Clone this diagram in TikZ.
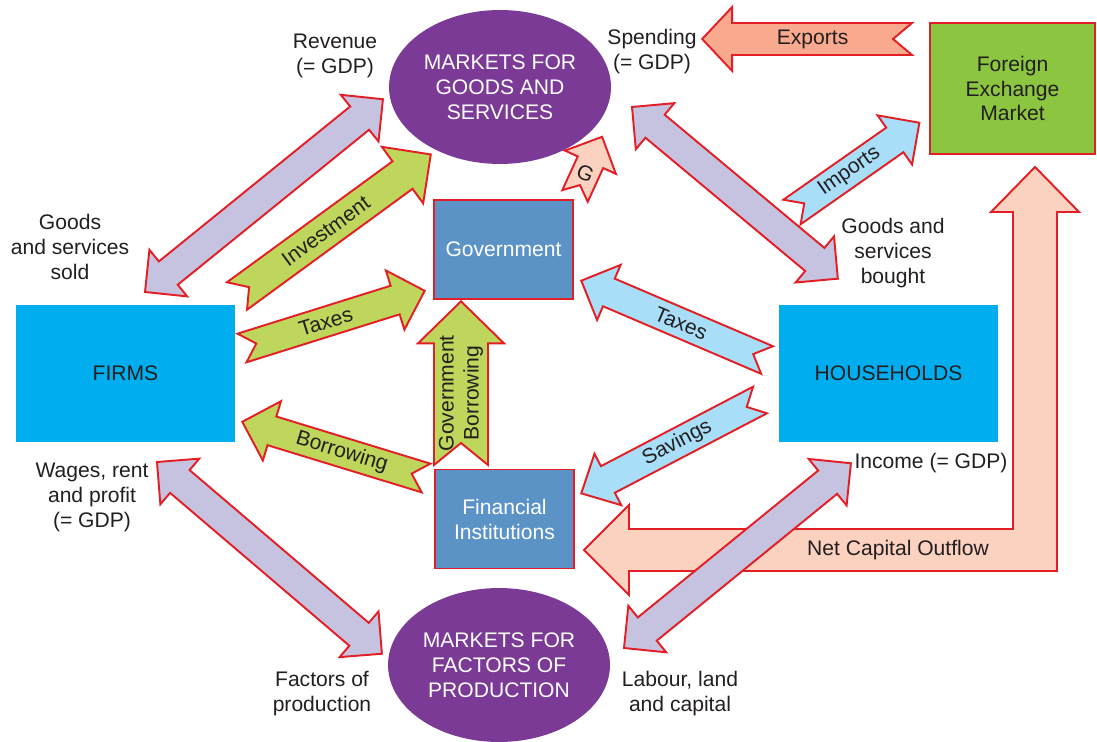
\documentclass[tikz,border=0pt]{standalone}
\usepackage{fontspec}
\setmainfont{Liberation Sans}
\usetikzlibrary{calc,shapes.geometric}

\definecolor{ink}{HTML}{231F20}
\definecolor{redl}{HTML}{E31E25}
\definecolor{lav}{HTML}{C6C3E1}
\definecolor{grn}{HTML}{BDD65B}
\definecolor{blu}{HTML}{A8DEF8}
\definecolor{salm}{HTML}{F8A98E}
\definecolor{peach}{HTML}{FBD1BF}
\definecolor{purp}{HTML}{7B3A96}
\definecolor{cyanb}{HTML}{00ADEE}
\definecolor{steel}{HTML}{5B93C7}
\definecolor{fxg}{HTML}{8CC540}

% shaft half width / head half width / head length / notch depth
\def\splitdims#1/#2/#3/#4\relax{\def\dw{#1}\def\dh{#2}\def\dl{#3}\def\dn{#4}}
\newcommand{\getdir}[2]{%
  \path let \p1=($(#2)-(#1)$) in \pgfextra{%
    \pgfmathsetmacro\tmpang{atan2(\y1,\x1)}%
    \pgfmathsetmacro\tmplen{veclen(\x1,\y1)/0.56693}%
    \xdef\dirang{\tmpang}\xdef\dirlen{\tmplen}};%
  \pgfmathsetmacro\labang{\dirang+180*(abs(\dirang)>90.5)}}
\newcommand{\fatarrow}[6][]{%
  \getdir{#3}{#4}\splitdims#5\relax
  \begin{scope}[shift={(#3)},rotate=\dirang,x=0.02cm,y=0.02cm]
    \draw[flow,fill=#2] (\dn,0) -- (0,\dw) -- ({\dirlen-\dl},\dw) -- ({\dirlen-\dl},\dh)
      -- (\dirlen,0) -- ({\dirlen-\dl},-\dh) -- ({\dirlen-\dl},-\dw) -- (0,-\dw) -- cycle;
    \node[lbl,rotate=\labang,#1] at ({(\dn+\dirlen-\dl)/2},0) {#6};
  \end{scope}}
\newcommand{\dblarrow}[3]{%
  \getdir{#1}{#2}\splitdims#3/0\relax
  \begin{scope}[shift={(#1)},rotate=\dirang,x=0.02cm,y=0.02cm]
    \draw[flow,fill=lav] (0,0) -- (\dl,\dh) -- (\dl,\dw) -- ({\dirlen-\dl},\dw) -- ({\dirlen-\dl},\dh)
      -- (\dirlen,0) -- ({\dirlen-\dl},-\dh) -- ({\dirlen-\dl},-\dw) -- (\dl,-\dw) -- (\dl,-\dh) -- cycle;
  \end{scope}}

\begin{document}
\begin{tikzpicture}[x=0.02cm,y=-0.02cm,font=\fontsize{12}{14.2}\selectfont,text=ink]
\tikzstyle{market}=[ellipse,fill=purp,text=white,minimum width=4.44cm,minimum height=3.08cm,inner sep=0pt,align=center]
\tikzstyle{sector}=[rectangle,fill=cyanb,minimum width=4.38cm,minimum height=2.74cm]
\tikzstyle{inst}=[rectangle,draw=redl,line width=1.1pt,fill=steel,text=white,minimum width=2.78cm,minimum height=1.98cm,align=center]
\tikzstyle{forex}=[inst,fill=fxg,text=ink,minimum width=3.3cm,minimum height=2.62cm]
\tikzstyle{note}=[align=center,inner sep=0pt]
\tikzstyle{flow}=[draw=redl,line width=1.1pt,line join=miter]
\tikzstyle{lbl}=[inner sep=0pt,align=center]
\useasboundingbox (0,0) rectangle (1097,742);

\node[market] (mgs) at (500,87) {MARKETS FOR\\GOODS AND\\SERVICES};
\node[market] (mfp) at (499,665) {MARKETS FOR\\FACTORS OF\\PRODUCTION};
\node[sector] (firms) at (125.5,373.5) {FIRMS};
\node[sector] (hh) at (888.5,373.5) {HOUSEHOLDS};
\node[inst] (gov) at (503.5,249.5) {Government};
\node[inst] (fin) at (504.5,519) {Financial\\Institutions};
\node[forex] (fx) at (1012.5,88.5) {Foreign\\Exchange\\Market};

% net capital outflow (both ends)
\draw[flow,fill=peach] (584,550) -- (629,505) -- (629,529) -- (1013,529) -- (1013,212) -- (991,212)
  -- (1035,167) -- (1079,212) -- (1057,212) -- (1057,571) -- (629,571) -- (629,595) -- cycle;
\node (tnco) at (898,550) {Net Capital Outflow};

% goods and factor flows
\coordinate (revA) at (145,292); \coordinate (revB) at (382,100);
\coordinate (spdA) at (632,107); \coordinate (spdB) at (837,278);
\coordinate (wagA) at (157,462); \coordinate (wagB) at (381,653);
\coordinate (labA) at (624,648); \coordinate (labB) at (850,464);
\foreach \a/\b in {revA/revB,spdA/spdB,wagA/wagB,labA/labB}
  \dblarrow{\a}{\b}{15/30/30};

% money flows
\coordinate (invS) at (237,296); \coordinate (invT) at (430,155);
\coordinate (taxFS) at (242,348); \coordinate (taxFT) at (424,291);
\coordinate (borS) at (426,478); \coordinate (borT) at (243,422);
\coordinate (gborS) at (461,465); \coordinate (gborT) at (461,302);
\coordinate (gS) at (575,196); \coordinate (gT) at (602,137);
\coordinate (taxHS) at (767,360); \coordinate (taxHT) at (582,281);
\coordinate (savS) at (760,400); \coordinate (savT) at (582,493);
\coordinate (impS) at (792,212); \coordinate (impT) at (919,123);
\coordinate (expS) at (912,39); \coordinate (expT) at (703,39);
\fatarrow{grn}{invS}{invT}{17/35/35/15}{Investment}
\fatarrow{grn}{taxFS}{taxFT}{15/31/31/15}{Taxes}
\fatarrow{grn}{borS}{borT}{15/31/31/15}{Borrowing}
\fatarrow{grn}{gborS}{gborT}{27/43/42/22}{Government\\Borrowing}
\fatarrow[rotate=-90]{peach}{gS}{gT}{14/28/28/12}{G}
\fatarrow{blu}{taxHS}{taxHT}{15/30/30/15}{Taxes}
\fatarrow{blu}{savS}{savT}{15/29/30/15}{Savings}
\fatarrow{blu}{impS}{impT}{15/30/30/15}{Imports}
\fatarrow{salm}{expS}{expT}{16/32/30/19}{Exports}

\node[note] (trev) at (335,56) {Revenue\\(= GDP)};
\node[note] (tspd) at (652,52) {Spending\\(= GDP)};
\node[note] (tsold) at (70,247) {Goods\\and services\\sold};
\node[note] (tbuy) at (893,253) {Goods and\\services\\bought};
\node[note] (twag) at (92,497) {Wages, rent\\and profit\\(= GDP)};
\node[note] (tinc) at (931,463) {Income (= GDP)};
\node[note] (tfac) at (322,694) {Factors of\\production};
\node[note] (tlab) at (680,694) {Labour, land\\and capital};
\end{tikzpicture}
\end{document}
